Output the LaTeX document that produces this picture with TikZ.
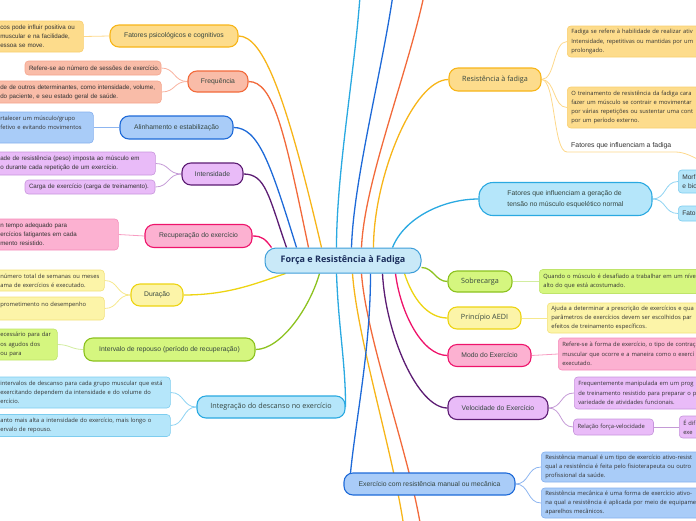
\documentclass[tikz,border=0pt]{standalone}
\usepackage{fontspec}
\setmainfont{Liberation Sans}
\newfontfamily\osf{Open Sans}
\definecolor{orF}{HTML}{FDDC8C}\definecolor{orD}{HTML}{F7B519}\definecolor{orL}{HTML}{FDD88A}\definecolor{orB}{HTML}{F9CE6E}
\definecolor{rdF}{HTML}{F9BCA8}\definecolor{rdD}{HTML}{F26A3B}\definecolor{rdL}{HTML}{F8B3A0}\definecolor{rdB}{HTML}{F5A48C}
\definecolor{blF}{HTML}{A9CCF8}\definecolor{blD}{HTML}{1E6AD8}\definecolor{blL}{HTML}{8DB5F0}\definecolor{blB}{HTML}{86B0EE}
\definecolor{puF}{HTML}{E9BBF8}\definecolor{puD}{HTML}{5C1C73}\definecolor{puL}{HTML}{C49AD6}\definecolor{puB}{HTML}{C795DC}
\definecolor{mgF}{HTML}{FCB1D1}\definecolor{mgD}{HTML}{EE146B}\definecolor{mgL}{HTML}{F79CC2}\definecolor{mgB}{HTML}{F58CBA}
\definecolor{yeF}{HTML}{FCF4A8}\definecolor{yeD}{HTML}{EDD412}\definecolor{yeL}{HTML}{F6E88C}\definecolor{yeB}{HTML}{F3E17A}
\definecolor{grF}{HTML}{D5F67F}\definecolor{grD}{HTML}{8CC21F}\definecolor{grL}{HTML}{D2EDA0}\definecolor{grB}{HTML}{BFE46A}
\definecolor{cyF}{HTML}{B5E6FA}\definecolor{cyD}{HTML}{2AA9E1}\definecolor{cyL}{HTML}{8ED3F2}\definecolor{cyB}{HTML}{7ECDEF}
\definecolor{cF}{HTML}{C9E9F8}\definecolor{cD}{HTML}{3E9ED9}\definecolor{cT}{HTML}{1B2E5C}
\definecolor{txt}{HTML}{364640}\definecolor{stxt}{HTML}{333333}
\newcommand\fmain{\fontsize{6.8}{8}\selectfont}
\newcommand\fosm{\osf\fontsize{7.2}{8}\selectfont}
\newcommand\fsa{\fontsize{6.2}{9.2}\selectfont}
\newcommand\fso{\osf\fontsize{5.8}{9.2}\selectfont}
\pgfdeclarelayer{bg}
\pgfsetlayers{bg,main}
\tikzset{
  mn/.style={rounded corners=9pt, line width=1.1pt, inner sep=0pt, align=center, text=txt, font=\fmain},
  cb/.style={rounded corners=3.5pt, line width=0.6pt, inner xsep=4pt, inner ysep=0pt, align=left, text=stxt, anchor=west},
  br/.style={line width=1.3pt},
  sub/.style={line width=0.8pt}
}
\begin{document}
\begin{tikzpicture}[x=1pt,y=-1pt]
\useasboundingbox (0,0) rectangle (696,520);
% center
\node[rounded corners=11pt, fill=cF, draw=cD, line width=1pt, minimum width=156pt, minimum height=25pt, inner sep=0pt, font=\osf\bfseries\fontsize{9}{10}\selectfont, text=cT] (c) at (343,260.5) {Força e Resistência à Fadiga};
% left main nodes
\node[mn, fill=orF, draw=orD, minimum width=128pt, minimum height=22pt] (ps) at (174,36) {Fatores psicológicos e cognitivos};
\node[mn, fill=rdF, draw=rdD, minimum width=60pt, minimum height=21pt] (fq) at (218,81.5) {Frequência};
\node[mn, fill=blF, draw=blD, minimum width=113pt, minimum height=23pt] (al) at (176.5,127.5) {Alinhamento e estabilização};
\node[mn, fill=puF, draw=puD, minimum width=61pt, minimum height=22pt] (in) at (212.5,174) {Intensidade};
\node[mn, fill=mgF, draw=mgD, minimum width=107pt, minimum height=23pt] (rc) at (198.5,236) {Recuperação do exercício};
\node[mn, fill=yeF, draw=yeD, minimum width=52pt, minimum height=22pt] (du) at (157,295) {Duração};
\node[mn, fill=grF, draw=grD, minimum width=171pt, minimum height=23pt] (iv) at (169.5,349.5) {Intervalo de repouso (período de recuperação)};
\node[mn, fill=cyF, draw=cyD, minimum width=148pt, minimum height=22pt, font=\fosm] (ig) at (271,407) {Integração do descanso no exercício};
% right main nodes
\node[mn, fill=orF, draw=orD, minimum width=92pt, minimum height=23pt, font=\fosm] (rf) at (495,79.5) {Resistência à fadiga};
\node[mn, fill=cyF, draw=cyD, minimum width=173pt, minimum height=33pt, rounded corners=14pt, align=left, font=\fontsize{6.8}{11}\selectfont] (fg) at (565.5,199) {Fatores que influenciam a geração de\\tensão no músculo esquelético normal};
\node[mn, fill=grF, draw=grD, minimum width=64pt, minimum height=21pt, font=\fosm] (sb) at (480,281.5) {Sobrecarga};
\node[mn, fill=yeF, draw=yeD, minimum width=73pt, minimum height=22pt, font=\fosm] (ae) at (484.5,318) {Princípio AEDI};
\node[mn, fill=mgF, draw=mgD, minimum width=83pt, minimum height=22pt] (mo) at (489.5,355.5) {Modo do Exercício};
\node[mn, fill=puF, draw=puD, minimum width=100pt, minimum height=23pt] (ve) at (498,408) {Velocidade do Exercício};
\node[mn, fill=blF, draw=blD, minimum width=171pt, minimum height=22pt] (ex) at (429.5,484) {Exercício com resistência manual ou mecânica};
% left children
\node[cb, fill=orF, draw=orB, text width=79pt, minimum height=31pt, font=\fsa] (psc) at (-4,36.5) {\mbox{cos pode influir positiva ou}\\\mbox{muscular e na facilidade,}\\\mbox{essoa se move.}};
\node[cb, fill=rdF, draw=rdB, text width=128pt, minimum height=14pt, font=\fsa, anchor=center] (fq1) at (93,68) {\mbox{Refere-se ao número de sessões de exercício.}};
\node[cb, fill=rdF, draw=rdB, text width=157pt, minimum height=22pt, font=\fsa] (fq2) at (-4,92) {\mbox{de de outros determinantes, como intensidade, volume,}\\\mbox{do paciente, e seu estado geral de saúde.}};
\node[cb, fill=blF, draw=blB, text width=89pt, minimum height=31pt, font=\fso] (alc) at (-4,127.5) {\mbox{rtalecer um músculo/grupo}\\\mbox{fetivo e evitando movimentos}\\\mbox{}};
\node[cb, fill=puF, draw=puB, text width=151pt, minimum height=23pt, font=\fsa] (inc1) at (-4,163.5) {\mbox{ade de resistência (peso) imposta ao músculo em}\\\mbox{o durante cada repetição de um exercício.}};
\node[cb, fill=puF, draw=puB, text width=122pt, minimum height=14pt, font=\fsa, anchor=center] (inc2) at (90,187) {\mbox{Carga de exercício (carga de treinamento).}};
\node[cb, fill=mgF, draw=mgB, text width=114pt, minimum height=31pt, font=\fsa] (rcc) at (-4,234.5) {\mbox{n tempo adequado para}\\\mbox{ercícios fatigantes em cada}\\\mbox{mento resistido.}};
\node[cb, fill=yeF, draw=yeB, text width=100pt, minimum height=21pt, font=\fso] (duc1) at (-4,280.5) {\mbox{número total de semanas ou meses}\\\mbox{ama de exercícios é executado.}};
\node[cb, fill=yeF, draw=yeB, text width=100pt, minimum height=23pt, font=\fso] (duc2) at (-4,308.5) {\mbox{prometimento no desempenho}\\\mbox{}};
\node[cb, fill=grF, draw=grB, text width=53pt, minimum height=31pt, font=\fso] (ivc) at (-4,344.5) {\mbox{ecessário para dar}\\\mbox{os agudos dos}\\\mbox{ou para}};
\node[cb, fill=cyF, draw=cyB, text width=166pt, minimum height=31pt, font=\fso] (igc1) at (-4,392.5) {\mbox{intervalos de descanso para cada grupo muscular que está}\\\mbox{exercitando dependem da intensidade e do volume do}\\\mbox{ercício.}};
\node[cb, fill=cyF, draw=cyB, text width=166pt, minimum height=22pt, font=\fso] (igc2) at (-4,425.5) {\mbox{anto mais alta a intensidade do exercício, mais longo o}\\\mbox{ervalo de repouso.}};
% right children
\node[cb, fill=orF, draw=orB, text width=200pt, minimum height=31pt, font=\fso] (rfc1) at (567,41.5) {\mbox{Fadiga se refere à habilidade de realizar ativ}\\\mbox{Intensidade, repetitivas ou mantidas por um}\\\mbox{prolongado.}};
\node[cb, fill=orF, draw=orB, text width=200pt, minimum height=41pt, font=\fso] (rfc2) at (567,107.5) {\mbox{O treinamento de resistência da fadiga cara}\\\mbox{fazer um músculo se contrair e movimentar}\\\mbox{por várias repetições ou sustentar uma cont}\\\mbox{por um período externo.}};
\node[inner xsep=4pt, inner ysep=2.5pt, anchor=south west, font=\fontsize{6.9}{8}\selectfont, text=stxt] (ff) at (567,152) {Fatores que influenciam a fadiga};
\coordinate (ffx) at (730,172);
\node[cb, fill=cyF, draw=cyB, text width=200pt, minimum height=23pt, font=\fontsize{6.6}{8.4}\selectfont] (fgc1) at (678,181.5) {\mbox{Morf}\\\mbox{e bio}};
\node[cb, fill=cyF, draw=cyB, text width=200pt, minimum height=15pt, font=\fontsize{6.6}{8.4}\selectfont] (fgc2) at (678,213.5) {\mbox{Fato}};
\node[cb, fill=grF, draw=grB, text width=200pt, minimum height=24pt, font=\fso] (sbc) at (539,281.5) {\mbox{Quando o músculo é desafiado a trabalhar em um níve}\\\mbox{alto do que está acostumado.}};
\node[cb, fill=yeF, draw=yeB, text width=200pt, minimum height=30pt, font=\fso] (aec) at (547,318) {\mbox{Ajuda a determinar a prescrição de exercícios e qua}\\\mbox{parâmetros de exercícios devem ser escolhidos par}\\\mbox{efeitos de treinamento específicos.}};
\node[cb, fill=mgF, draw=mgB, text width=200pt, minimum height=32pt, font=\fso] (moc) at (558,354) {\mbox{Refere-se à forma de exercício, o tipo de contraç}\\\mbox{muscular que ocorre e a maneira como o exercí}\\\mbox{executado.}};
\node[cb, fill=puF, draw=puB, text width=200pt, minimum height=32pt, font=\fso] (vec1) at (574,393) {\mbox{Frequentemente manipulada em um prog}\\\mbox{de treinamento resistido para preparar o p}\\\mbox{variedade de atividades funcionais.}};
\node[cb, fill=puF, draw=puB, text width=72pt, minimum height=16pt, font=\fso, anchor=center] (vec2) at (613.5,427) {\mbox{Relação força-velocidade}};
\node[cb, fill=puF, draw=puB, text width=200pt, minimum height=22pt, font=\fso] (vec3) at (679,427) {\mbox{É dif}\\\mbox{exe}};
\node[cb, fill=blF, draw=blB, text width=200pt, minimum height=30pt, font=\fso] (exc1) at (541,467) {\mbox{Resistência manual é um tipo de exercício ativo-resist}\\\mbox{qual a resistência é feita pelo fisioterapeuta ou outro}\\\mbox{profissional da saúde.}};
\node[cb, fill=blF, draw=blB, text width=200pt, minimum height=30pt, font=\fso] (exc2) at (541,503) {\mbox{Resistência mecânica é uma forma de exercício ativo-}\\\mbox{na qual a resistência é aplicada por meio de equipame}\\\mbox{aparelhos mecânicos.}};
% off-canvas ends
\coordinate (u1) at (361,-20);
\coordinate (u2) at (395,-20);
\coordinate (u3) at (427,-20);
\coordinate (d1) at (406,545);
\coordinate (d2) at (423,545);
\begin{pgfonlayer}{bg}
% left branches
\draw[br, orD] (ps.east) .. controls +(25,0) and +(-35,-150) .. ([xshift=57pt]c.north west);
\draw[br, rdD] (fq.east) .. controls +(25,0) and +(-24,-116) .. ([xshift=44pt]c.north west);
\draw[br, blD] (al.east) .. controls +(25,0) and +(-26,-84) .. ([xshift=32pt]c.north west);
\draw[br, puD] (in.east) .. controls +(22,0) and +(-18,-52) .. ([xshift=22pt]c.north west);
\draw[br, mgD] (rc.east) .. controls +(10,0) and +(-6,-8) .. ([xshift=7pt]c.north west);
\draw[br, yeD] (du.east) .. controls +(45,0) and +(-30,10) .. ([xshift=21pt]c.south west);
\draw[br, grD] (iv.east) .. controls +(25,0) and +(-10,35) .. ([xshift=55pt]c.south west);
\draw[br, cyD] (ig.east) .. controls +(0,-45) and +(2,55) .. ([xshift=72pt]c.south west);
% upward off-canvas
\draw[br, cyD] ([xshift=72pt]c.north west) .. controls +(0,-80) and +(-4,80) .. (u1);
\draw[br, blD] ([xshift=87pt]c.north west) .. controls +(2,-70) and +(-10,80) .. (u2);
\draw[br, rdD] ([xshift=97pt]c.north west) .. controls +(3,-70) and +(-14,80) .. (u3);
% downward off-canvas
\draw[br, orD] ([xshift=88pt]c.south west) .. controls +(5,70) and +(-6,-70) .. (d1);
\draw[br, rdD] ([xshift=97pt]c.south west) .. controls +(5,70) and +(-6,-70) .. (d2);
% right branches
\draw[br, orD] ([xshift=109pt]c.north west) .. controls +(0,-70) and +(-35,0) .. (rf.west);
\draw[br, cyD] ([xshift=128pt]c.north west) .. controls +(12,-30) and +(-35,0) .. (fg.west);
\draw[br, grD] ([yshift=-7pt]c.east) .. controls +(12,0) and +(-12,0) .. (sb.west);
\draw[br, yeD] ([xshift=140pt]c.south west) .. controls +(8,25) and +(-20,0) .. (ae.west);
\draw[br, mgD] ([xshift=131pt]c.south west) .. controls +(5,40) and +(-25,0) .. (mo.west);
\draw[br, puD] ([xshift=118pt]c.south west) .. controls +(3,60) and +(-30,0) .. (ve.west);
\draw[br, blD] ([xshift=106pt]c.south west) .. controls +(0,80) and +(5,-60) .. ([xshift=6pt]ex.west);
% left sub connectors
\draw[sub, orL] (ps.west) -- (psc.east);
\draw[sub, rdL] (fq.west) .. controls +(-14,0) and +(14,0) .. (fq1.east);
\draw[sub, rdL] (fq.west) .. controls +(-14,0) and +(14,0) .. (fq2.east);
\draw[sub, blL] (al.west) -- (alc.east);
\draw[sub, puL] (in.west) .. controls +(-14,0) and +(14,0) .. (inc1.east);
\draw[sub, puL] (in.west) .. controls +(-14,0) and +(14,0) .. (inc2.east);
\draw[sub, mgL] (rc.west) -- (rcc.east);
\draw[sub, yeL] (du.west) .. controls +(-14,0) and +(14,0) .. (duc1.east);
\draw[sub, yeL] (du.west) .. controls +(-14,0) and +(14,0) .. (duc2.east);
\draw[sub, grL] (iv.west) .. controls +(-12,0) and +(12,0) .. (ivc.east);
\draw[sub, cyL] (ig.west) .. controls +(-14,0) and +(14,0) .. (igc1.east);
\draw[sub, cyL] (ig.west) .. controls +(-14,0) and +(14,0) .. (igc2.east);
% right sub connectors
\draw[sub, orL] (rf.east) .. controls +(14,0) and +(-14,0) .. (rfc1.west);
\draw[sub, orL] (rf.east) .. controls +(14,0) and +(-14,0) .. (rfc2.west);
\draw[sub, orL] (rf.east) .. controls +(14,0) and +(-14,0) .. (ff.south west) -- (ff.south east) .. controls +(18,0) and +(-18,0) .. (ffx);
\draw[sub, cyL] (fg.east) .. controls +(14,0) and +(-14,0) .. (fgc1.west);
\draw[sub, cyL] (fg.east) .. controls +(14,0) and +(-14,0) .. (fgc2.west);
\draw[sub, grL] (sb.east) -- (sbc.west);
\draw[sub, yeL] (ae.east) -- (aec.west);
\draw[sub, mgL] (mo.east) -- (moc.west);
\draw[sub, puL] (ve.east) .. controls +(14,0) and +(-14,0) .. (vec1.west);
\draw[sub, puL] (ve.east) .. controls +(14,0) and +(-14,0) .. (vec2.west);
\draw[sub, puL] (vec2.east) -- (vec3.west);
\draw[sub, blL] (ex.east) .. controls +(14,0) and +(-14,0) .. (exc1.west);
\draw[sub, blL] (ex.east) .. controls +(14,0) and +(-14,0) .. (exc2.west);
\end{pgfonlayer}
\end{tikzpicture}
\end{document}
